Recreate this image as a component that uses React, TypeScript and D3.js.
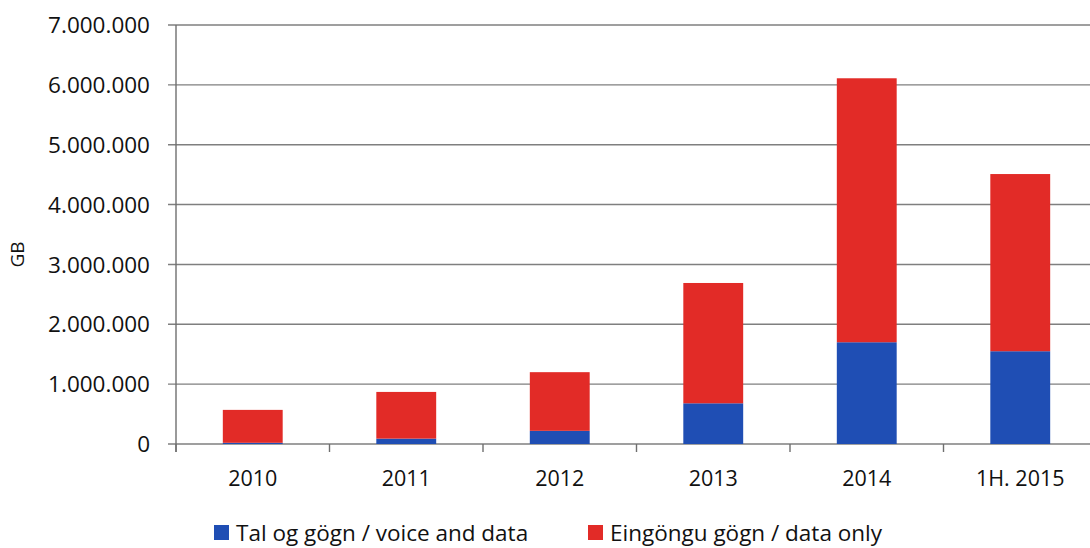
import { useEffect, useRef } from "react";
import * as d3 from "d3";

const categories = ["2010", "2011", "2012", "2013", "2014", "1H. 2015"];
const voiceAndData = [20000, 90000, 220000, 680000, 1700000, 1550000];
const dataOnly = [550000, 780000, 980000, 2010000, 4410000, 2960000];
const seriesNames = ["Tal og gögn / voice and data", "Eingöngu gögn / data only"];
const yTicks = [0, 1000000, 2000000, 3000000, 4000000, 5000000, 6000000, 7000000];

const width = 1090;
const height = 548;
const MARGIN = { top: 25, right: -7, bottom: 104, left: 176 };
const colors = ["#1f4eb4", "#e22b27"];
const FONT = "'Open Sans', sans-serif";

function App() {
  const svgRef = useRef(null);

  useEffect(() => {
    const svg = d3.select(svgRef.current);
    svg.selectAll("*").remove();

    const boundedWidth = width - MARGIN.left - MARGIN.right;
    const boundedHeight = height - MARGIN.top - MARGIN.bottom;

    const xScale = d3.scaleBand()
      .domain(categories)
      .range([0, boundedWidth])
      .paddingInner(0.61)
      .paddingOuter(0.305);

    const yScale = d3.scaleLinear()
      .domain([0, 7000000])
      .range([boundedHeight, 0]);

    const g = svg.append("g")
      .attr("transform", `translate(${MARGIN.left},${MARGIN.top})`);

    // gridlines
    g.selectAll("line.grid")
      .data(yTicks)
      .join("line")
      .attr("class", "grid")
      .attr("x1", -8)
      .attr("x2", boundedWidth)
      .attr("y1", d => yScale(d))
      .attr("y2", d => yScale(d))
      .attr("stroke", "#7f7f7f")
      .attr("stroke-width", 1.4);

    // y labels
    const fmt = (v: number) => d3.format(",")(v).replace(/,/g, ".");
    g.selectAll("text.ylab")
      .data(yTicks)
      .join("text")
      .attr("class", "ylab")
      .attr("x", -26)
      .attr("y", d => yScale(d))
      .attr("dy", "0.36em")
      .attr("text-anchor", "end")
      .attr("font-family", FONT)
      .attr("font-size", 22.5)
      .attr("fill", "#111")
      .text(d => fmt(d));

    // stacked bars
    const rows = categories.map((c, i) => ({ cat: c, a: voiceAndData[i], b: dataOnly[i] }));
    const stack = d3.stack<any>().keys(["a", "b"]);
    const layers = stack(rows);

    layers.forEach((layer, li) => {
      g.selectAll(`rect.s${li}`)
        .data(layer)
        .join("rect")
        .attr("class", `s${li}`)
        .attr("x", d => xScale(d.data.cat)!)
        .attr("width", xScale.bandwidth())
        .attr("y", d => yScale(d[1]))
        .attr("height", d => yScale(d[0]) - yScale(d[1]))
        .attr("fill", colors[li]);
    });

    // axes lines
    g.append("line")
      .attr("x1", 0).attr("x2", 0)
      .attr("y1", 0).attr("y2", boundedHeight + 8)
      .attr("stroke", "#6f6f6f")
      .attr("stroke-width", 1.4);

    const step = xScale.step();
    const tickPos = d3.range(categories.length + 1).map(i => i * step);
    g.selectAll("line.xtick")
      .data(tickPos)
      .join("line")
      .attr("class", "xtick")
      .attr("x1", d => d).attr("x2", d => d)
      .attr("y1", boundedHeight).attr("y2", boundedHeight + 8)
      .attr("stroke", "#6f6f6f")
      .attr("stroke-width", 1.4);

    g.selectAll("text.xlab")
      .data(categories)
      .join("text")
      .attr("class", "xlab")
      .attr("x", d => xScale(d)! + xScale.bandwidth() / 2)
      .attr("y", boundedHeight + 42)
      .attr("text-anchor", "middle")
      .attr("font-family", FONT)
      .attr("font-size", 21.5)
      .attr("fill", "#111")
      .text(d => d);

    // y title
    svg.append("text")
      .attr("transform", `translate(24,${MARGIN.top + boundedHeight / 2 + 20}) rotate(-90)`)
      .attr("text-anchor", "middle")
      .attr("font-family", FONT)
      .attr("font-size", 19)
      .attr("fill", "#111")
      .text("GB");

    // legend
    const legendX = [214, 588];
    const legend = svg.selectAll("g.legend")
      .data(seriesNames)
      .join("g")
      .attr("class", "legend")
      .attr("transform", (d, i) => `translate(${legendX[i]},525)`);
    legend.append("rect")
      .attr("width", 15).attr("height", 15)
      .attr("fill", (d, i) => colors[i]);
    legend.append("text")
      .attr("x", 22)
      .attr("y", 8)
      .attr("dy", "0.34em")
      .attr("font-family", FONT)
      .attr("font-size", 22.5)
      .attr("fill", "#111")
      .text(d => d);
  }, []);

  return (
    <div style={{ position: "absolute", left: 0, top: 0 }}>
      <svg width={width} height={height} ref={svgRef} style={{ display: "block", background: "#fff" }}></svg>
    </div>
  );
}

export default App;
